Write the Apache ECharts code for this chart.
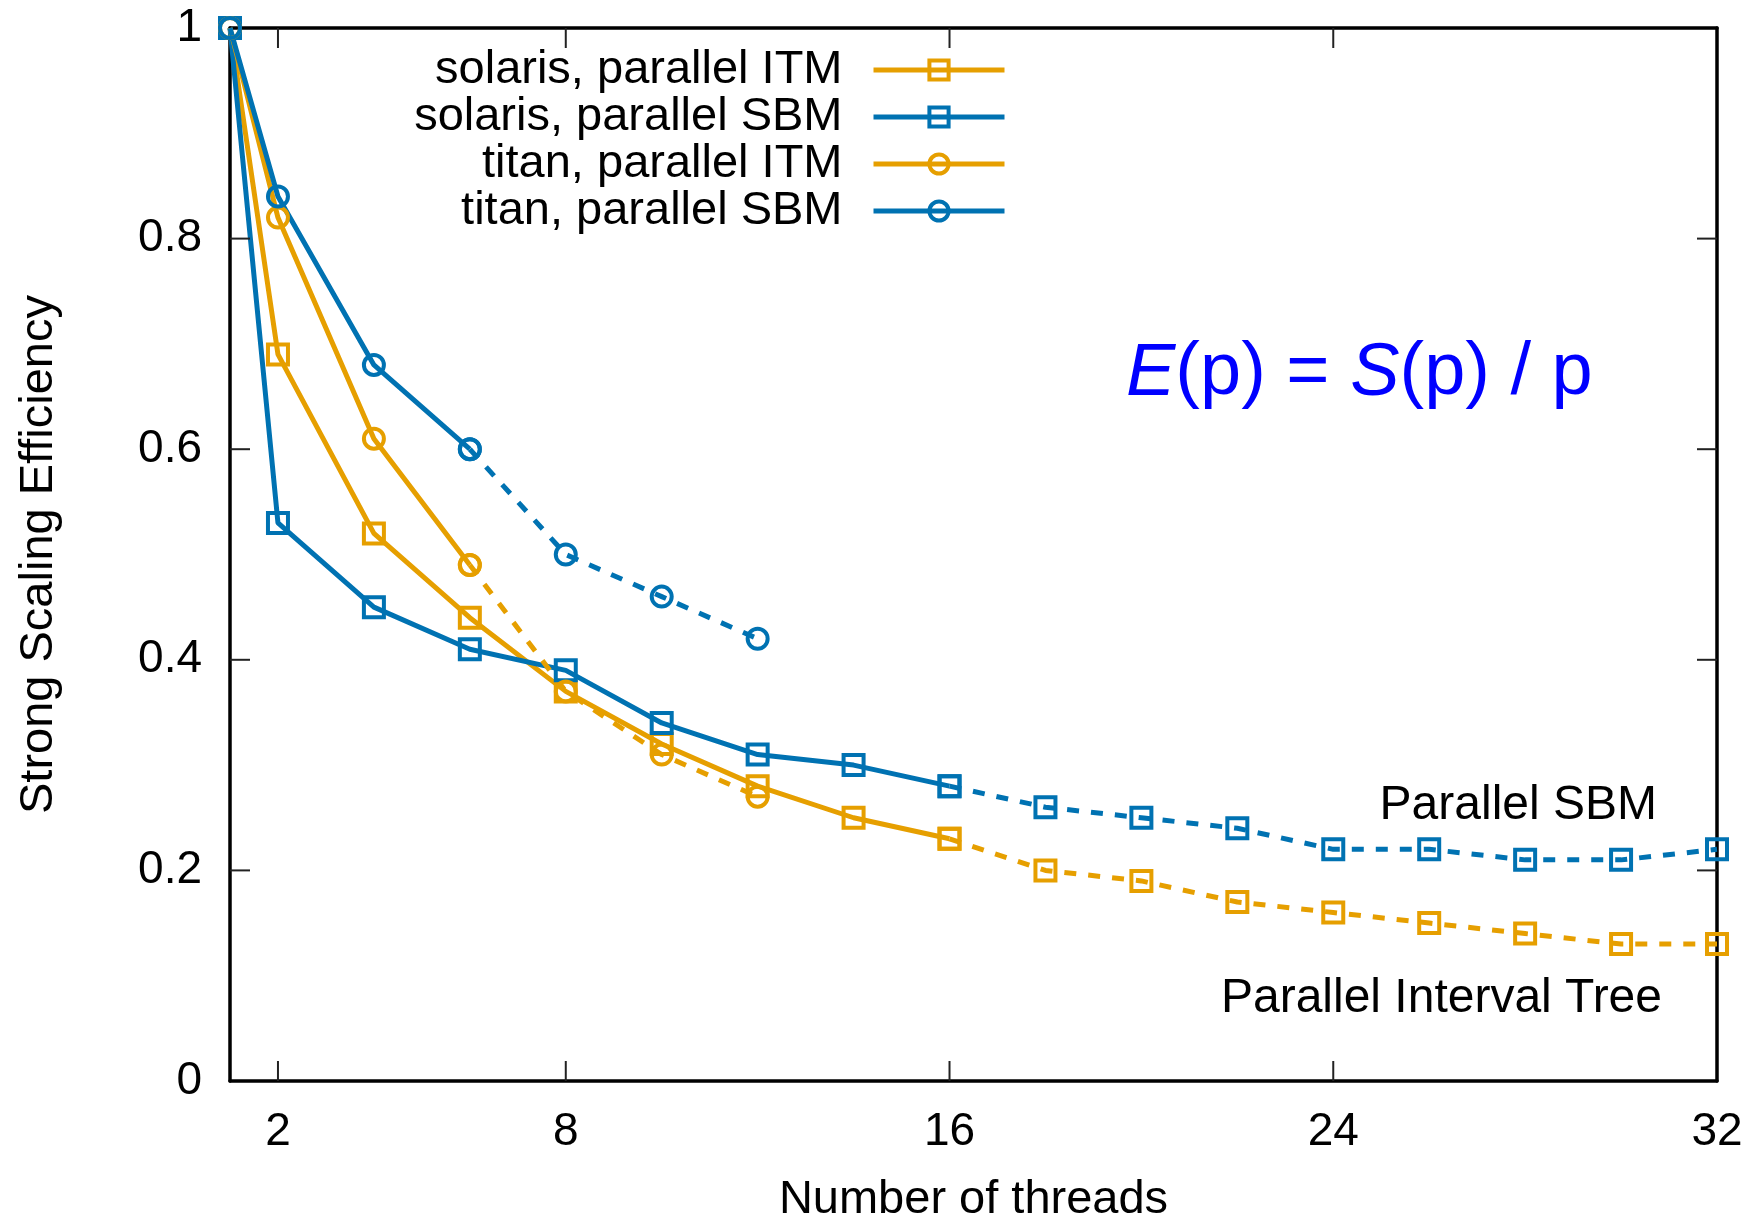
<!DOCTYPE html>
<html>
<head>
<meta charset="utf-8">
<script src="https://cdn.jsdelivr.net/npm/echarts@6/dist/echarts.min.js"></script>
<style>
  html, body { margin: 0; padding: 0; background: #fff; }
  #chart { width: 1754px; height: 1217px; }
</style>
</head>
<body>
<div id="chart"></div>
<script>
// threads
const solarisX = [1, 2, 4, 6, 8, 10, 12, 14, 16];
const solarisExtX = [16, 18, 20, 22, 24, 26, 28, 30, 32];
const titanX = [1, 2, 4, 6];
const titanExtX = [6, 8, 10, 12];

// efficiency values
const solarisITM = [1, 0.69, 0.52, 0.44, 0.37, 0.32, 0.28, 0.25, 0.23];
const solarisITMExt = [0.23, 0.20, 0.19, 0.17, 0.16, 0.15, 0.14, 0.13, 0.13];
const solarisSBM = [1, 0.53, 0.45, 0.41, 0.39, 0.34, 0.31, 0.30, 0.28];
const solarisSBMExt = [0.28, 0.26, 0.25, 0.24, 0.22, 0.22, 0.21, 0.21, 0.22];
const titanITM = [1, 0.82, 0.61, 0.49];
const titanITMExt = [0.49, 0.37, 0.31, 0.27];
const titanSBM = [1, 0.84, 0.68, 0.60];
const titanSBMExt = [0.60, 0.50, 0.46, 0.42];

// axes
const xMin = 1, xMax = 32;
const yMin = 0, yMax = 1;
const xTicks = [2, 8, 16, 24, 32];
const yTicks = [0.2, 0.4, 0.6, 0.8];
const names = ['solaris, parallel ITM', 'solaris, parallel SBM', 'titan, parallel ITM', 'titan, parallel SBM'];

const orange = '#e69f00';
const blue = '#0072b2';
const font = '"Liberation Sans", Arial, Helvetica, sans-serif';
const tickLen = 20;

const zip = (xs, ys) => xs.map((x, i) => [x, ys[i]]);

function mkSeries(name, xs, ys, color, symbol, dashed) {
  return {
    name: name,
    type: 'line',
    data: zip(xs, ys),
    symbol: symbol,
    symbolSize: 20,
    lineStyle: {color: color, width: 5, type: dashed ? [12, 12] : 'solid'},
    itemStyle: {color: 'rgba(0,0,0,0)', borderColor: color, borderWidth: 4},
    emphasis: {disabled: true},
    animation: false
  };
}

// gnuplot-style inward ticks on all four sides
function tickLine(x1, y1, x2, y2) {
  return {type: 'line', shape: {x1: x1, y1: y1, x2: x2, y2: y2}, style: {stroke: '#222', lineWidth: 2}};
}

const xTickSeries = {
  type: 'custom',
  silent: true,
  clip: false,
  z: 5,
  data: xTicks.filter((v) => v < xMax).map((v) => [v, yMin]),
  renderItem: (params, api) => {
    const b = api.coord([api.value(0), yMin]);
    const t = api.coord([api.value(0), yMax]);
    return {type: 'group', children: [
      tickLine(b[0], b[1], b[0], b[1] - tickLen),
      tickLine(t[0], t[1], t[0], t[1] + tickLen)
    ]};
  }
};

const yTickSeries = {
  type: 'custom',
  silent: true,
  clip: false,
  z: 5,
  data: yTicks.map((v) => [xMin, v]),
  renderItem: (params, api) => {
    const l = api.coord([xMin, api.value(1)]);
    const r = api.coord([xMax, api.value(1)]);
    return {type: 'group', children: [
      tickLine(l[0], l[1], l[0] + tickLen, l[1]),
      tickLine(r[0], r[1], r[0] - tickLen, r[1])
    ]};
  }
};

const series = [
  mkSeries(names[0], solarisX, solarisITM, orange, 'rect', false),
  mkSeries(names[0] + ' (cont.)', solarisExtX, solarisITMExt, orange, 'rect', true),
  mkSeries(names[1], solarisX, solarisSBM, blue, 'rect', false),
  mkSeries(names[1] + ' (cont.)', solarisExtX, solarisSBMExt, blue, 'rect', true),
  mkSeries(names[2], titanX, titanITM, orange, 'circle', false),
  mkSeries(names[2] + ' (cont.)', titanExtX, titanITMExt, orange, 'circle', true),
  mkSeries(names[3], titanX, titanSBM, blue, 'circle', false),
  mkSeries(names[3] + ' (cont.)', titanExtX, titanSBMExt, blue, 'circle', true),
  xTickSeries,
  yTickSeries
];

const rowCenters = [70, 117, 164, 211];
const legends = names.map((n, i) => ({
  data: [n],
  right: 747,
  top: rowCenters[i] - 24,
  align: 'right',
  padding: 0,
  itemWidth: 131,
  itemHeight: 24,
  selectedMode: false,
  lineStyle: {width: 5},
  itemStyle: {borderWidth: 4},
  textStyle: {fontSize: 47, lineHeight: 48, fontFamily: font, color: '#000', padding: [0, 26, 0, 0]}
}));

const axisLineStyle = {show: true, onZero: false, lineStyle: {color: '#000', width: 3.5}};

const myChart = echarts.init(document.getElementById('chart'));
const option = {
  backgroundColor: '#fff',
  animation: false,
  grid: {left: 230, right: 37, top: 28, bottom: 136, outerBoundsMode: 'none', containLabel: false},
  legend: legends,
  xAxis: [{
    type: 'value',
    min: xMin,
    max: xMax,
    name: 'Number of threads',
    nameLocation: 'middle',
    nameGap: 96,
    nameTextStyle: {fontSize: 47, fontFamily: font, color: '#000'},
    axisLine: axisLineStyle,
    axisTick: {show: false},
    axisLabel: {customValues: xTicks, margin: 28, fontSize: 46, fontFamily: font, color: '#000'},
    splitLine: {show: false}
  }, {
    type: 'value',
    position: 'top',
    min: xMin,
    max: xMax,
    axisLine: axisLineStyle,
    axisTick: {show: false},
    axisLabel: {show: false},
    splitLine: {show: false}
  }],
  yAxis: [{
    type: 'value',
    min: yMin,
    max: yMax,
    interval: 0.2,
    name: 'Strong Scaling Efficiency',
    nameLocation: 'middle',
    nameGap: 167,
    nameTextStyle: {fontSize: 47, fontFamily: font, color: '#000'},
    axisLine: axisLineStyle,
    axisTick: {show: false},
    axisLabel: {margin: 28, fontSize: 46, fontFamily: font, color: '#000'},
    splitLine: {show: false}
  }, {
    type: 'value',
    position: 'right',
    min: yMin,
    max: yMax,
    interval: 0.2,
    axisLine: axisLineStyle,
    axisTick: {show: false},
    axisLabel: {show: false},
    splitLine: {show: false}
  }],
  graphic: [{
    type: 'text',
    x: 1126,
    y: 374,
    style: {
      text: '{i|E}(p) = {i|S}(p) / p',
      fill: '#0000ff',
      fontSize: 74,
      fontFamily: font,
      verticalAlign: 'middle',
      rich: {i: {fontStyle: 'italic', fontSize: 74, fontFamily: font, fill: '#0000ff'}}
    }
  }, {
    type: 'text',
    x: 1657,
    y: 806,
    style: {text: 'Parallel SBM', fill: '#000', fontSize: 48, fontFamily: font, align: 'right', verticalAlign: 'middle'}
  }, {
    type: 'text',
    x: 1662,
    y: 999,
    style: {text: 'Parallel Interval Tree', fill: '#000', fontSize: 48, fontFamily: font, align: 'right', verticalAlign: 'middle'}
  }],
  series: series
};

myChart.setOption(option);
</script>
</body>
</html>
